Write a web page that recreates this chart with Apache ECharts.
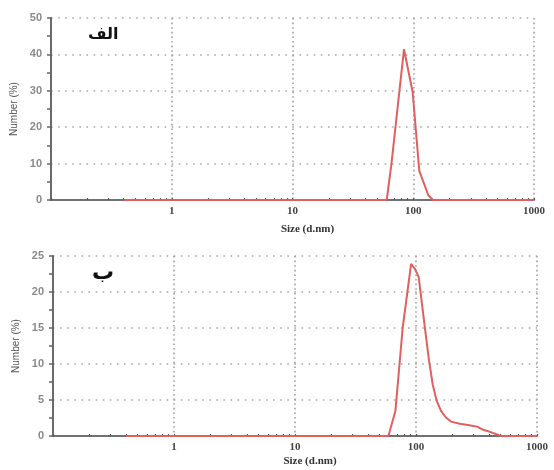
<!DOCTYPE html>
<html>
<head>
<meta charset="utf-8">
<script src="https://cdn.jsdelivr.net/npm/echarts@6/dist/echarts.min.js"></script>
<style>
    html, body { margin: 0; padding: 0; background: #fff; }
    #chartDLS { width: 554px; height: 470px; }
</style>
</head>
<body>
<div id="chartDLS"></div>
<script>
    // size distribution, sample A (top)
    var sizeA = [0.4, 60.3, 66, 83.8, 98.9, 112.2, 133.3, 145.8, 1000];
    var numberA = [0, 0, 10, 41.4, 29.6, 8.0, 1.3, 0, 0];
    // size distribution, sample B (bottom)
    var sizeB = [0.4, 59.2, 67.6, 77.7, 91.1, 98, 105.2, 117.3, 128, 137.3, 148, 161, 176, 194.6, 230, 275.6, 320, 354.8, 420, 487, 515, 1000];
    var numberB = [0, 0, 3.5, 15.1, 23.9, 23.2, 22.1, 15.6, 10.5, 7.2, 4.9, 3.5, 2.6, 2.0, 1.7, 1.5, 1.3, 0.9, 0.5, 0.1, 0, 0];
    var xTickLabels = ['1', '10', '100', '1000'];
    var panelLabels = ['الف', 'ب'];

    // log minor tick positions 0.2..1000
    var xTicks = [];
    for (var d = 0.1; d < 1000; d *= 10) {
        for (var k = 1; k < 10; k++) {
            xTicks.push(+(d * k).toPrecision(3));
        }
    }
    xTicks.push(1000);

    function pairs(xs, ys) {
        return xs.map(function (x, i) { return [x, ys[i]]; });
    }

    var gridDots = { color: '#a8a8a8', width: 1.6, type: [1.6, 5.5] };

    function makeX(idx) {
        return {
            gridIndex: idx,
            type: 'log',
            logBase: 10,
            min: 0.1,
            max: 1000,
            position: 'bottom',
            name: 'Size (d.nm)',
            nameLocation: 'middle',
            nameGap: idx === 0 ? 24 : 20,
            nameTextStyle: {
                fontFamily: 'Liberation Serif',
                fontWeight: 'bold',
                fontSize: 11,
                color: '#333',
                padding: [0, 0, 0, 30]
            },
            axisLine: { lineStyle: { color: '#6a6a6a', width: 1.5 } },
            axisTick: { show: false },
            axisLabel: {
                margin: 6,
                fontFamily: 'Liberation Serif',
                fontWeight: 'bold',
                fontSize: 11,
                color: '#444',
                formatter: function (v) {
                    var s = String(Math.round(v));
                    return xTickLabels.indexOf(s) >= 0 && v >= 0.5 ? s : '';
                }
            },
            splitLine: { show: true, lineStyle: { color: '#a0a0a0', width: 1.6, type: [1.6, 3] } }
        };
    }

    // overlay axis that only draws the small log ticks
    function makeTickX(idx) {
        return {
            gridIndex: idx,
            type: 'log',
            logBase: 10,
            min: 0.1,
            max: 1000,
            position: 'bottom',
            axisLine: { lineStyle: { color: '#6a6a6a', width: 1.5 } },
            axisTick: { show: true, inside: true, customValues: xTicks, length: 2, lineStyle: { color: '#555', width: 1.2 } },
            axisLabel: { show: false },
            splitLine: { show: false }
        };
    }

    function makeY(idx, max, interval) {
        return {
            gridIndex: idx,
            type: 'value',
            min: 0,
            max: max,
            interval: interval,
            name: 'Number (%)',
            nameLocation: 'middle',
            nameGap: 27,
            nameTextStyle: { fontFamily: 'Liberation Sans', fontSize: 10, color: '#555' },
            axisLine: { show: true, lineStyle: { color: '#6a6a6a', width: 2 } },
            axisTick: { show: true, length: 4, lineStyle: { color: '#666', width: 1.5 } },
            minorTick: { show: true, splitNumber: 2, length: 4, lineStyle: { color: '#666', width: 1.5 } },
            axisLabel: {
                margin: 9,
                fontFamily: 'Liberation Sans',
                fontWeight: 'bold',
                fontSize: 11,
                color: '#8a8a8a'
            },
            splitLine: { show: true, lineStyle: gridDots }
        };
    }

    var chart = echarts.init(document.getElementById('chartDLS'));
    var option = {
        backgroundColor: '#fff',
        animation: false,
        grid: [
            { left: 51, right: 20, top: 18, height: 182 },
            { left: 53, right: 17, top: 256, height: 180 }
        ],
        xAxis: [makeX(0), makeX(1), makeTickX(0), makeTickX(1)],
        yAxis: [makeY(0, 50, 10), makeY(1, 25, 5)],
        graphic: [
            {
                type: 'text', left: 88, top: 27,
                style: { text: panelLabels[0], font: 'bold 16px "DejaVu Sans"', fill: '#111' }
            },
            {
                type: 'text', left: 92, top: 262,
                style: { text: panelLabels[1], font: 'bold 22px "DejaVu Sans"', fill: '#111' }
            }
        ],
        series: [
            {
                type: 'line',
                xAxisIndex: 0,
                yAxisIndex: 0,
                data: pairs(sizeA, numberA),
                showSymbol: false,
                lineStyle: { color: '#e06060', width: 2 },
                z: 5
            },
            {
                type: 'line',
                xAxisIndex: 1,
                yAxisIndex: 1,
                data: pairs(sizeB, numberB),
                showSymbol: false,
                lineStyle: { color: '#e06060', width: 2 },
                z: 5
            }
        ]
    };
    chart.setOption(option);
</script>
</body>
</html>
